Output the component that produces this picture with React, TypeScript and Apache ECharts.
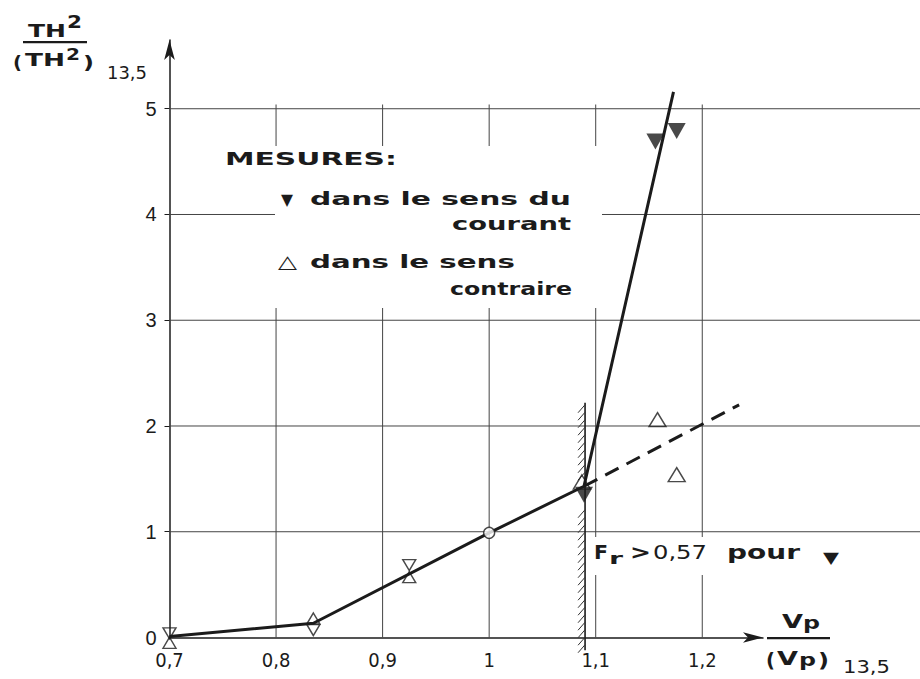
import React, { useEffect, useRef } from 'react';
import * as echarts from 'echarts';

// ---- axis ticks / grid ----
const xTicks = [0.7, 0.8, 0.9, 1.0, 1.1, 1.2];
const yTicks = [0, 1, 2, 3, 4, 5];
const gridX = [0.8, 0.9, 1.0, 1.1, 1.2];
const gridY = [1, 2, 3, 4, 5];
const gridXTop = 5.04;
const gridYRight = 1.41;

// ---- data ----
const curveSolid = [[0.7, 0.01], [0.835, 0.135], [1.0, 0.99], [1.089, 1.43], [1.173, 5.16]];
const curveDashed = [[1.089, 1.43], [1.2346, 2.2]];
const courantFilled = [[1.089, 1.35], [1.156, 4.69], [1.176, 4.79]];
const courantHollow = [[0.7, 0.04], [0.835, 0.07], [0.925, 0.685]];
const contraire = [[0.7, -0.05], [0.835, 0.18], [0.925, 0.57], [1.087, 1.47], [1.158, 2.06], [1.176, 1.54]];
const referencePoint = [[1.0, 0.99]];
const wallX = 1.09;
const wallFrom = -0.12;
const wallTo = 2.22;
const wallGap = [1.27, 1.56];

const INK = '#1b1b1b';
const BOLD = "'DejaVu Sans', sans-serif";
const REG = "'DejaVu Sans', sans-serif";

let measureCtx: CanvasRenderingContext2D | null = null;
function measure(text: string, font: string) {
  if (!measureCtx) measureCtx = document.createElement('canvas').getContext('2d');
  measureCtx!.font = font;
  return measureCtx!.measureText(text).width;
}

function txt(text: string, o: { left?: number; right?: number; baseline: number; size: number; bold?: boolean; width?: number; family?: string }) {
  const weight = o.bold === false ? 'normal' : 'bold';
  const family = o.family || (o.bold === false ? REG : BOLD);
  const font = `${weight} ${o.size}px ${family}`;
  const w = measure(text, font);
  const sx = o.width ? o.width / w : 1;
  const isLeft = o.left != null;
  return {
    type: 'text',
    x: isLeft ? o.left : o.right,
    y: o.baseline - 0.35 * o.size,
    scaleX: sx,
    z: 120,
    silent: true,
    style: { text, font, fill: INK, align: isLeft ? 'left' : 'right', verticalAlign: 'middle' },
  };
}

function whiteRect(x: number, y: number, w: number, h: number) {
  return { type: 'rect', z: 110, silent: true, shape: { x, y, width: w, height: h }, style: { fill: '#ffffff' } };
}

function bar(x: number, y: number, w: number) {
  return { type: 'rect', z: 120, silent: true, shape: { x, y, width: w, height: 2.2 }, style: { fill: INK } };
}

function fmtX(v: number) {
  const hit = xTicks.find((t) => Math.abs(t - v) < 1e-6);
  if (hit == null) return '';
  return Number.isInteger(hit) ? String(hit) : hit.toFixed(1).replace('.', ',');
}

export default function App() {
  const ref = useRef<HTMLDivElement>(null);
  useEffect(() => {
    const chart = echarts.init(ref.current!, null, { renderer: 'svg' });

    const graphics: any[] = [
      // white knock-outs behind annotation texts
      whiteRect(220, 146, 382, 28),
      whiteRect(275, 174, 327, 134),
      whiteRect(590, 537, 258, 38),
      // legend block
      txt('MESURES:', { left: 225, baseline: 165, size: 18, width: 172 }),
      txt('▼', { left: 281, baseline: 205, size: 16, width: 12 }),
      txt('dans le sens du', { left: 310, baseline: 205, size: 18, width: 261 }),
      txt('courant', { right: 571, baseline: 230, size: 18, width: 119 }),
      txt('△', { left: 278, baseline: 268, size: 18, width: 19 }),
      txt('dans le sens', { left: 310, baseline: 268, size: 18, width: 205 }),
      txt('contraire', { right: 572, baseline: 295, size: 18, width: 122 }),
      // y-axis title
      txt('TH', { left: 28, baseline: 37, size: 18, width: 38 }),
      txt('2', { left: 67, baseline: 28, size: 18, width: 15 }),
      bar(23, 41, 64),
      txt('(', { left: 13, baseline: 69, size: 18, width: 9 }),
      txt('TH', { left: 25, baseline: 66, size: 18, width: 40 }),
      txt('2', { left: 66, baseline: 60, size: 15, width: 14 }),
      txt(')', { left: 83, baseline: 69, size: 18, width: 11 }),
      txt('13,5', { left: 107, baseline: 79, size: 17, bold: false, width: 40 }),
      // x-axis title
      txt('V', { left: 782, baseline: 628, size: 19, width: 21 }),
      txt('p', { left: 803, baseline: 629, size: 17, width: 17 }),
      bar(767, 637, 63),
      txt('(', { left: 766, baseline: 667, size: 19, width: 9 }),
      txt('V', { left: 777, baseline: 665, size: 19, width: 21 }),
      txt('p', { left: 799, baseline: 666, size: 17, width: 17 }),
      txt(')', { left: 818, baseline: 667, size: 19, width: 11 }),
      txt('13,5', { left: 843, baseline: 673, size: 18, bold: false, width: 47 }),
      // Froude annotation
      txt('F', { left: 594, baseline: 559, size: 19, width: 14 }),
      txt('r', { left: 609, baseline: 564, size: 16, width: 14 }),
      txt('>', { left: 630, baseline: 559, size: 19, width: 21 }),
      txt('0,57', { left: 653, baseline: 559, size: 19, bold: false, width: 54 }),
      txt('pour', { left: 727, baseline: 559, size: 19, width: 73 }),
      txt('▼', { left: 823, baseline: 563, size: 16, width: 16 }),
    ];

    const option: any = {
      animation: false,
      backgroundColor: '#ffffff',
      textStyle: { fontFamily: REG },
      grid: { left: 169.5, right: 157, top: 40, bottom: 41.5, containLabel: false },
      xAxis: {
        type: 'value',
        min: 0.7,
        max: 1.257,
        axisLine: { show: true, symbol: ['none', 'arrow'], symbolSize: [8, 20], lineStyle: { color: INK, width: 1.5 } },
        axisTick: { show: false },
        splitLine: { show: false },
        axisLabel: {
          customValues: xTicks,
          formatter: (v: number) => fmtX(v),
          fontFamily: "'Liberation Sans Narrow', 'DejaVu Sans Condensed', sans-serif",
          fontSize: 20,
          color: INK,
          margin: 12,
        },
      },
      yAxis: {
        type: 'value',
        min: 0,
        max: 5.65,
        axisLine: { show: true, symbol: ['none', 'arrow'], symbolSize: [8, 20], lineStyle: { color: INK, width: 1.5 } },
        axisTick: { show: true, customValues: yTicks.filter((v) => v > 0), length: 5, lineStyle: { color: INK, width: 1 } },
        splitLine: { show: false },
        axisLabel: {
          customValues: yTicks,
          formatter: (v: number) => String(v),
          fontFamily: "'Liberation Sans', sans-serif",
          fontSize: 20,
          color: INK,
          margin: 13,
        },
      },
      graphic: { elements: graphics },
      series: [
        {
          type: 'custom',
          name: 'vgrid',
          clip: false,
          silent: true,
          z: 1,
          data: gridX.map((v) => [v, 0]),
          renderItem: (_p: any, api: any) => {
            const a = api.coord([api.value(0), 0]);
            const b = api.coord([api.value(0), gridXTop]);
            return { type: 'line', shape: { x1: a[0], y1: a[1], x2: b[0], y2: b[1] }, style: { stroke: '#444', lineWidth: 1 } };
          },
        },
        {
          type: 'custom',
          name: 'hgrid',
          clip: false,
          silent: true,
          z: 1,
          data: gridY.map((v) => [0.7, v]),
          renderItem: (_p: any, api: any) => {
            const a = api.coord([0.7, api.value(1)]);
            const b = api.coord([gridYRight, api.value(1)]);
            return { type: 'line', shape: { x1: a[0], y1: a[1], x2: b[0], y2: b[1] }, style: { stroke: '#444', lineWidth: 1 } };
          },
        },
        {
          type: 'custom',
          name: 'wall',
          clip: false,
          silent: true,
          z: 2,
          data: [[wallX, 0]],
          renderItem: (_p: any, api: any) => {
            const top = api.coord([api.value(0), wallTo]);
            const bot = api.coord([api.value(0), wallFrom]);
            const g1 = api.coord([api.value(0), wallGap[1]]);
            const g0 = api.coord([api.value(0), wallGap[0]]);
            const children: any[] = [
              { type: 'line', shape: { x1: top[0], y1: top[1], x2: bot[0], y2: bot[1] }, style: { stroke: INK, lineWidth: 1.6 } },
            ];
            for (let y = top[1] + 2; y < bot[1] - 4; y += 7.5) {
              if (y > g1[1] && y < g0[1]) continue;
              children.push({ type: 'line', shape: { x1: top[0], y1: y, x2: top[0] - 7, y2: y + 8 }, style: { stroke: '#333', lineWidth: 1 } });
            }
            return { type: 'group', children };
          },
        },
        {
          type: 'line',
          name: 'courbe',
          data: curveSolid,
          symbol: 'none',
          clip: false,
          z: 3,
          lineStyle: { color: INK, width: 3 },
        },
        {
          type: 'line',
          name: 'extrapolation',
          data: curveDashed,
          symbol: 'none',
          clip: false,
          z: 3,
          lineStyle: { color: INK, width: 3, type: [15, 9] },
        },
        {
          type: 'scatter',
          name: 'contraire',
          data: contraire,
          clip: false,
          z: 4,
          symbol: 'triangle',
          symbolSize: (v: number[]) => (v[0] > 1 ? [17, 14] : [13, 11]),
          itemStyle: { color: 'rgba(255,255,255,0)', borderColor: INK, borderWidth: 1.4 },
        },
        {
          type: 'scatter',
          name: 'courant (creux)',
          data: courantHollow,
          clip: false,
          z: 4,
          symbol: 'triangle',
          symbolRotate: 180,
          symbolSize: [13, 11],
          itemStyle: { color: 'rgba(255,255,255,0)', borderColor: INK, borderWidth: 1.4 },
        },
        {
          type: 'scatter',
          name: 'courant',
          data: courantFilled,
          clip: false,
          z: 5,
          symbol: 'triangle',
          symbolRotate: 180,
          symbolSize: [18, 16],
          itemStyle: { color: INK },
        },
        {
          type: 'scatter',
          name: 'référence',
          data: referencePoint,
          clip: false,
          z: 5,
          symbol: 'circle',
          symbolSize: 11,
          itemStyle: { color: '#ffffff', borderColor: INK, borderWidth: 1.4 },
        },
      ],
    };
    chart.setOption(option);
    return () => chart.dispose();
  }, []);
  return <div ref={ref} style={{ position: 'absolute', left: 0, top: 0, width: 920, height: 679 }} />;
}
